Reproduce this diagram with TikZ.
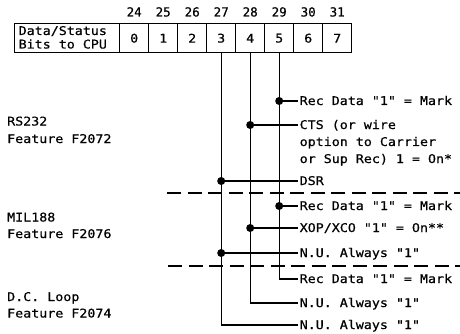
\documentclass[tikz,border=0pt]{standalone}
\usepackage{fontspec}
\newfontfamily\tw[FakeStretch=1.11,FakeBold=0.6]{DejaVu Sans Mono}
\newfontfamily\twn[FakeBold=0.6]{DejaVu Sans Mono}
\usetikzlibrary{calc}
\begin{document}
\begin{tikzpicture}[x=1pt,y=-1pt,
  font=\tw\fontsize{12}{13}\selectfont,
  cell/.style={draw, line width=1.4pt, minimum width=29pt, minimum height=29pt,
    inner sep=0pt, anchor=north west},
  hdrcell/.style={draw, line width=1.4pt, minimum height=29pt, minimum width=105pt,
    inner sep=0pt, anchor=north west},
  lbl/.style={anchor=base west, inner xsep=1.5pt, inner ysep=0pt},
  side/.style={anchor=base west, inner sep=0pt},
  bitnum/.style={anchor=base, inner sep=0pt, font=\twn\fontsize{12.5}{13}\selectfont},
  wire/.style={line width=1.3pt},
  dotc/.style={circle, fill, inner sep=0pt, minimum size=8pt},
  sepline/.style={line width=1.8pt, dash pattern=on 14pt off 6.5pt}]
\useasboundingbox (0,0) rectangle (460,334);

% register header
\node[hdrcell] (hdr) at (14,23) {};
\node[side] (h1) at (18.5,35) {Data/Status};
\node[side] (h2) at (18.5,48.5) {Bits to CPU};
\foreach \i [evaluate=\i as \n using int(24+\i)] in {0,...,7}{
  \node[cell] (c\i) at ({119+29*\i},23) {\i};
  \node[bitnum] (n\i) at ([yshift=6.5pt]c\i.north) {\n};
}

% side labels
\node[side] (rs1) at (7,125.5) {RS232};
\node[side] (rs2) at (7,143) {Feature F2072};
\node[side] (mil1) at (7,221.5) {MIL188};
\node[side] (mil2) at (7,238) {Feature F2076};
\node[side] (dc1) at (7,301) {D.C. Loop};
\node[side] (dc2) at (7,317.5) {Feature F2074};

% right texts
\node[lbl] (t1) at (298,105) {Rec Data "1" = Mark};
\node[lbl] (t2) at (298,129) {CTS (or wire};
\node[lbl] (t2b) at (298,146) {option to Carrier};
\node[lbl] (t2c) at (298,163) {or Sup Rec) 1 = On*};
\node[lbl] (t3) at (298,185) {DSR};
\node[lbl] (t4) at (298,210) {Rec Data "1" = Mark};
\node[lbl] (t5) at (298,232) {XOP/XCO "1" = On**};
\node[lbl] (t6) at (298,257) {N.U. Always "1"};
\node[lbl] (t7) at (298,283) {Rec Data "1" = Mark};
\node[lbl] (t8) at (298,307) {N.U. Always "1"};
\node[lbl] (t9) at (298,329) {N.U. Always "1"};

% junction points
\coordinate (j1) at (c5.south |- 0,101);
\coordinate (j2) at (c4.south |- 0,125);
\coordinate (j3) at (c3.south |- 0,181);
\coordinate (j4) at (c5.south |- 0,206);
\coordinate (j5) at (c4.south |- 0,228);
\coordinate (j6) at (c3.south |- 0,253);
\coordinate (j7) at (c5.south |- 0,279);
\coordinate (j8) at (c4.south |- 0,303);
\coordinate (j9) at (c3.south |- 0,325);

% vertical wires
\draw[wire] (c5.south) -- (j7) -- (j7 -| t7.west);
\draw[wire] (c4.south) -- (j8) -- (j8 -| t8.west);
\draw[wire] (c3.south) -- (j9) -- (j9 -| t9.west);

% taps
\foreach \k in {1,2,3,4,5,6}{
  \draw[wire] (j\k) -- (j\k -| t\k.west);
  \node[dotc] (d\k) at (j\k) {};
}

% feature separators
\coordinate (s1a) at (167,193);
\coordinate (s1b) at (460,193);
\coordinate (s2a) at (168,266);
\coordinate (s2b) at (460,266);
\draw[sepline] (s1a) -- (s1b);
\draw[sepline] (s2a) -- (s2b);
\end{tikzpicture}
\end{document}
